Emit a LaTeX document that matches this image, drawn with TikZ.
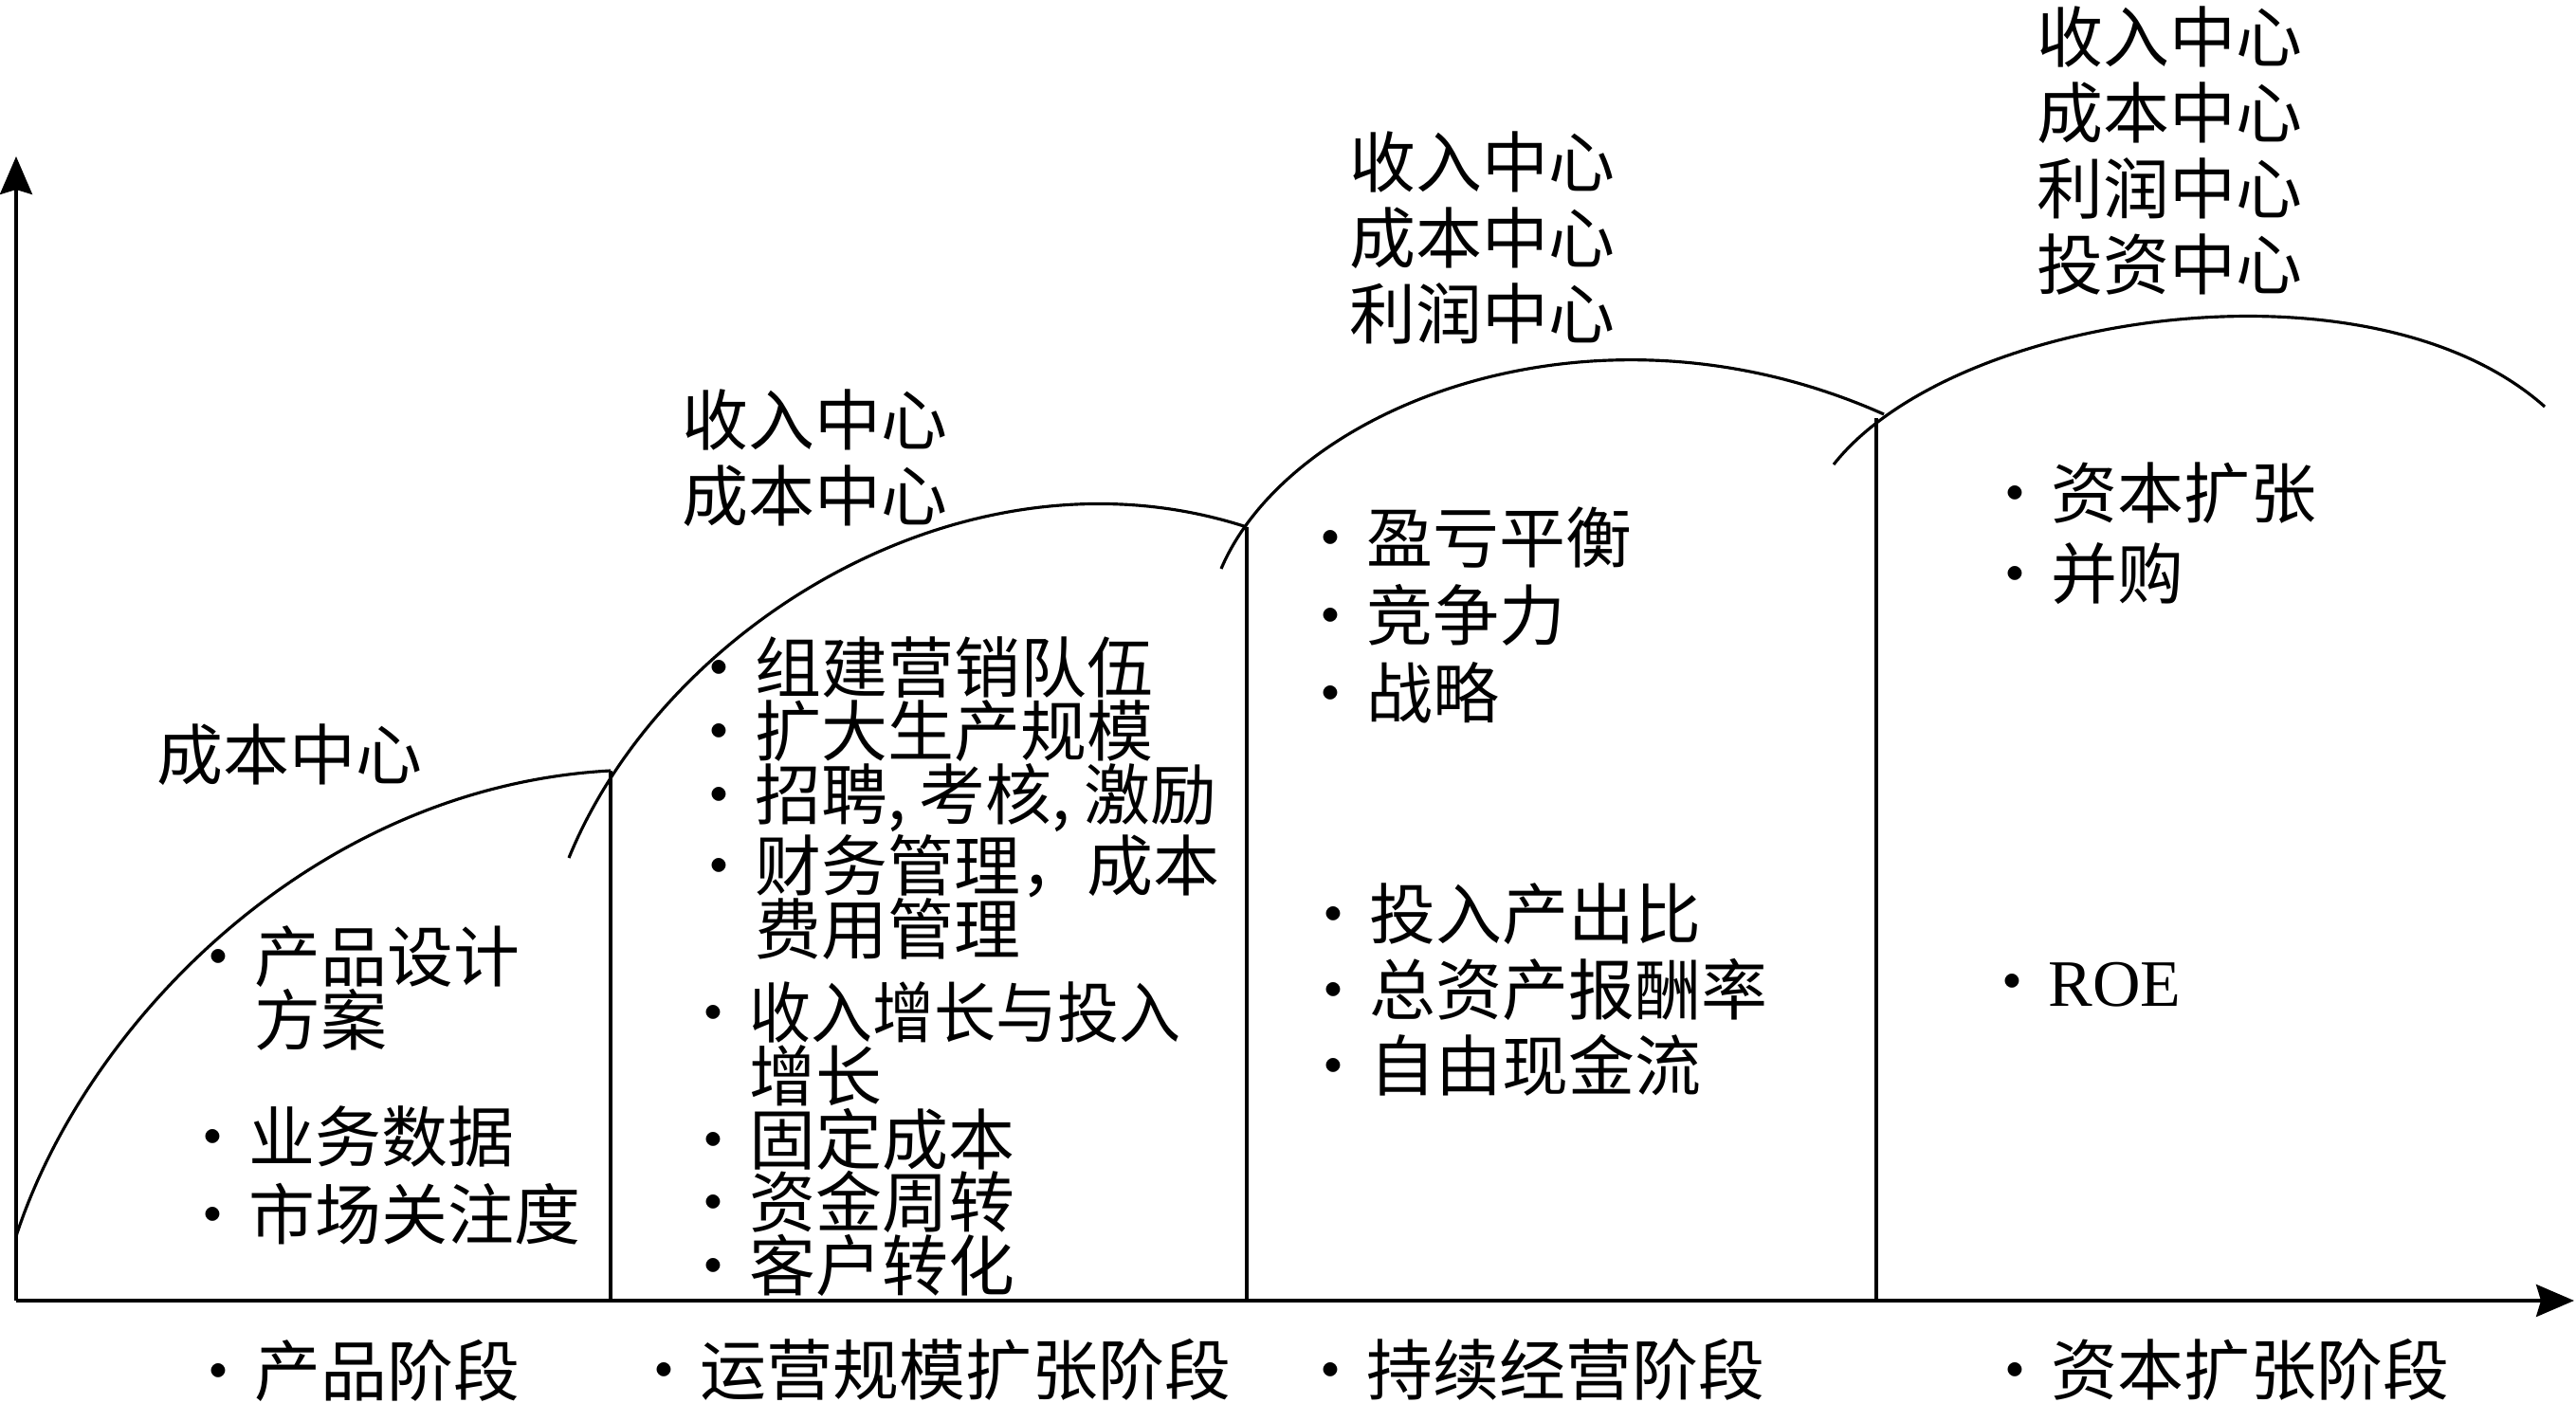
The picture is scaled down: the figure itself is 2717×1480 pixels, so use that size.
\documentclass[tikz,border=0pt]{standalone}
\usepackage{fontspec}
\setmainfont{Liberation Serif}
\newfontfamily\cjk{Noto Sans CJK SC}
\usetikzlibrary{arrows.meta}
\newcommand{\dotitem}{\makebox[1.1em]{·}}
\newcommand{\noitem}{\hspace*{1.1em}}
\begin{document}
\begin{tikzpicture}[
            x=0.1mm, y=-0.1mm,
            every node/.style={inner sep=0pt, anchor=north west, align=left,
                    font=\cjk\fontsize{19.9pt}{22.8pt}\selectfont},
            tight/.style={font=\cjk\fontsize{19.9pt}{19pt}\selectfont},
            loose/.style={font=\cjk\fontsize{19.9pt}{23.4pt}\selectfont},
            wide/.style={font=\cjk\fontsize{19.9pt}{24.2pt}\selectfont},
            axis/.style={line width=1pt, -{Stealth[length=4mm,width=3.4mm,inset=0.5mm]}},
            curve/.style={line width=0.9pt}
        ]

        \useasboundingbox (0,0) rectangle (2717,1480);

        \coordinate (O) at (17,1372);
        \coordinate (ytop) at (17,165);
        \coordinate (xend) at (2715,1372);
        \coordinate (jA) at (644,813);
        \coordinate (jB) at (1315,556);
        \coordinate (jC) at (1979,441);

        \draw[axis] (O) -- (ytop);
        \draw[axis] (O) -- (xend);

        \draw[curve] (17,1304) .. controls (90,1080) and (330,830) .. (jA);
        \draw[curve] (600,905) .. controls (700,660) and (1020,460) .. (jB);
        \draw[curve] (1288,600) .. controls (1360,430) and (1680,300) .. (1987,437);
        \draw[curve] (1934,490) .. controls (2060,330) and (2500,265) .. (2684,429);

        \draw[curve] (jA |- O) -- (jA);
        \draw[curve] (jB |- O) -- (jB);
        \draw[curve] (jC |- O) -- (jC);

        \node (hdrA) at (165,763) {成本中心};
        \node[tight] (itmA1) at (191,976) {\dotitem 产品设计\\\noitem 方案};
        \node[loose] (itmA2) at (185,1166) {\dotitem 业务数据\\\dotitem 市场关注度};
        \node (stgA) at (191,1413) {\dotitem 产品阶段};

        \node (hdrB) at (719,410) {收入中心\\成本中心};
        \node[tight] (itmB1) at (719,671) {\dotitem 组建营销队伍\\\dotitem 扩大生产规模\\\dotitem 招聘,\hspace{0.2em}考核,\hspace{0.2em}激励\\\dotitem 财务管理，成本\\\noitem 费用管理};
        \node[tight] (itmB2) at (713,1035) {\dotitem \scalebox{0.93}[1]{收入增长与投入}\\\noitem 增长\\\dotitem 固定成本\\\dotitem 资金周转\\\dotitem 客户转化};
        \node (stgB) at (661,1412) {\dotitem 运营规模扩张阶段};

        \node (hdrC) at (1423,138) {收入中心\\成本中心\\利润中心};
        \node[loose] (itmC1) at (1364,534) {\dotitem 盈亏平衡\\\dotitem 竞争力\\\dotitem 战略};
        \node (itmC2) at (1367,931) {\dotitem 投入产出比\\\dotitem 总资产报酬率\\\dotitem 自由现金流};
        \node (stgC) at (1364,1412) {\dotitem 持续经营阶段};

        \node (hdrD) at (2148,6) {收入中心\\成本中心\\利润中心\\投资中心};
        \node[wide] (itmD1) at (2086,487) {\dotitem 资本扩张\\\dotitem 并购};
        \node[anchor=base west] (itmD2) at (2083,1061) {\dotitem{\rmfamily ROE}};
        \node (stgD) at (2086,1412) {\dotitem 资本扩张阶段};

    \end{tikzpicture}
\end{document}
